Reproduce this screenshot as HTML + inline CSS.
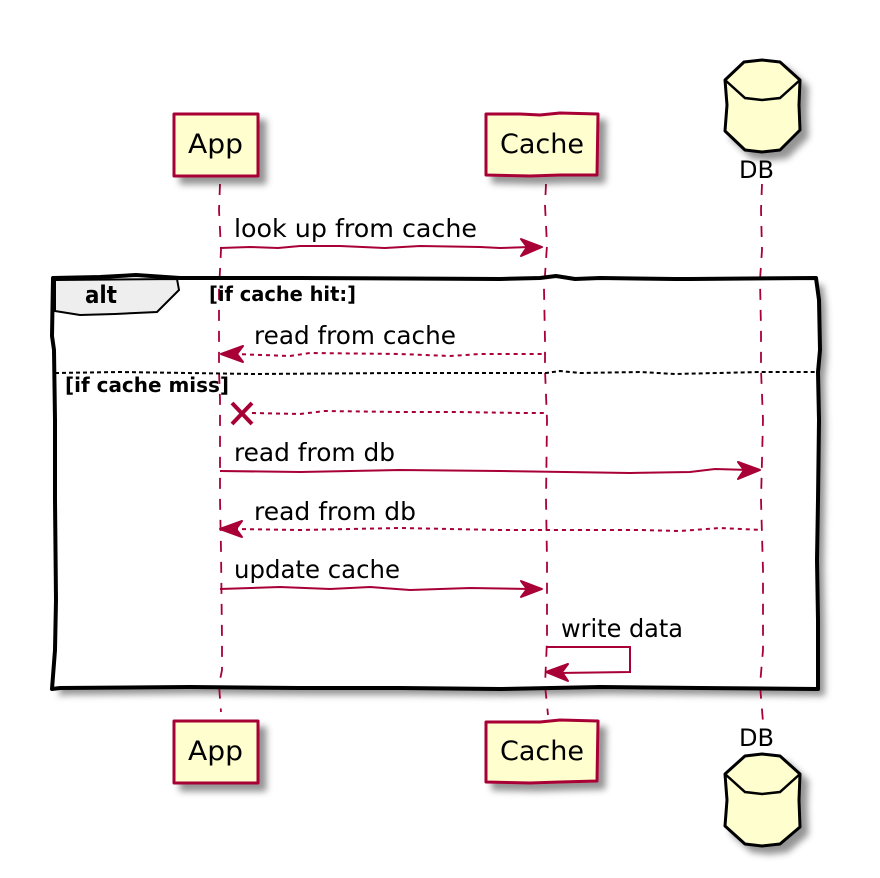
<!DOCTYPE html>
<html><head><meta charset="utf-8"><style>
html,body{margin:0;padding:0;background:#fff;width:880px;height:878px;overflow:hidden}
svg{display:block}
text{font-family:"DejaVu Sans",sans-serif;fill:#000}
.m{font-size:25.3px}.a{font-size:27px}.d{font-size:24px}.b{font-size:20px;font-weight:bold}
.box{fill:#FEFECE;stroke:#A80036;stroke-width:3;stroke-linejoin:round}
.db{fill:#FEFECE;stroke:#000;stroke-width:3;stroke-linejoin:round}
.ll{fill:none;stroke:#A80036;stroke-width:1.8;stroke-dasharray:11 10}
.msg{fill:none;stroke:#A80036;stroke-width:2}
.dot{fill:none;stroke:#A80036;stroke-width:2;stroke-dasharray:4 4}
.ah{fill:#A80036;stroke:#A80036;stroke-width:2;stroke-linejoin:round}
</style></head><body>
<svg width="880" height="878" viewBox="0 0 880 878" xmlns="http://www.w3.org/2000/svg">
<defs><filter id="s" x="-20%" y="-20%" width="150%" height="150%"><feDropShadow dx="7" dy="7" stdDeviation="3.5" flood-color="#000" flood-opacity=".42"/></filter></defs>

<path d="M53 278 L100 277 L136 275 L180 278 L300 278 L500 279 L540 278 L556 276 L575 279 L600 278 L675 279 L690 279 L816 278 L819 300 L820 350 L818 372 L819 420 L818 500 L817 560 L818 620 L818 689 L700 688 L600 687 L500 689 L400 688 L300 688 L190 687 L60 688 L52 689 L55 650 L56 600 L55 500 L55 420 L54 350 L52 336 Z" fill="#fff" filter="url(#s)"/>

<path class="ll" d="M220 184 L219 210 L221 250 L219 290 L219 340 L219 370 L220 400 L220 440 L220 500 L221 550 L222 640 L222 670 L219 685 L221 712"/>
<path class="ll" d="M546 184 L545 205 L547 245 L544 290 L545 340 L545 370 L547 420 L546 500 L547 560 L547 640 L545 685 L548 715"/>
<path class="ll" d="M762 184 L761 210 L762 250 L760 280 L761 330 L761 370 L763 420 L761 500 L763 570 L763 650 L760 685 L763 722"/>

<path d="M53 278 L100 277 L136 275 L180 278 L300 278 L500 279 L540 278 L556 276 L575 279 L600 278 L675 279 L690 279 L816 278 L819 300 L820 350 L818 372 L819 420 L818 500 L817 560 L818 620 L818 689 L700 688 L600 687 L500 689 L400 688 L300 688 L190 687 L60 688 L52 689 L55 650 L56 600 L55 500 L55 420 L54 350 L52 336 Z" fill="none" stroke="#000" stroke-width="4" stroke-linejoin="round"/>
<path d="M55 280 L177 279 L179 290 L157 312 L115 314 L80 315 L55 311 Z" fill="#EEEEEE" stroke="#000" stroke-width="2"/>
<text class="b" x="85" y="303" textLength="32" lengthAdjust="spacingAndGlyphs" style="font-size:24px">alt</text>
<text class="b" x="209" y="301" textLength="147" lengthAdjust="spacingAndGlyphs">[if cache hit:]</text>
<path d="M55 373 L120 372 L255 374 L400 373 L546 373 L560 371 L580 373 L640 372 L675 374 L760 372 L816 372" fill="none" stroke="#000" stroke-width="2" stroke-dasharray="4 3"/>
<text class="b" x="65" y="392" textLength="164" lengthAdjust="spacingAndGlyphs">[if cache miss]</text>

<rect class="box" x="174" y="114" width="84" height="62" filter="url(#s)"/>
<path class="box" d="M486 114 L520 114 L540 115 L560 113 L598 114 L597 175 L560 175 L530 176 L486 175 Z" filter="url(#s)"/>
<rect class="box" x="174" y="721" width="84" height="62" filter="url(#s)"/>
<path class="box" d="M486 722 L520 722 L540 722 L560 720 L598 721 L597 781 L560 782 L530 783 L486 782 Z" filter="url(#s)"/>
<text class="a" x="188" y="153" textLength="55" lengthAdjust="spacingAndGlyphs">App</text>
<text class="a" x="500" y="153" textLength="84" lengthAdjust="spacingAndGlyphs">Cache</text>
<text class="a" x="188" y="760" textLength="55" lengthAdjust="spacingAndGlyphs">App</text>
<text class="a" x="500" y="760" textLength="84" lengthAdjust="spacingAndGlyphs">Cache</text>

<path class="db" d="M725 80 L744 62 L762 60 L780 62 L800 80 L799 105 L800 130 L780 150 L762 152 L745 150 L725 131 L727 105 Z" filter="url(#s)"/>
<path d="M725 80 L745 98 L762 100 L780 98 L800 80" fill="none" stroke="#000" stroke-width="2.5"/>
<path class="db" d="M725 774 L745 756 L762 754 L780 756 L800 774 L799 800 L800 827 L780 844 L762 846 L745 844 L725 826 L727 800 Z" filter="url(#s)"/>
<path d="M725 774 L745 792 L762 794 L780 792 L800 774" fill="none" stroke="#000" stroke-width="2.5"/>
<text class="d" x="739" y="178" textLength="35" lengthAdjust="spacingAndGlyphs">DB</text>
<text class="d" x="739" y="746" textLength="35" lengthAdjust="spacingAndGlyphs">DB</text>

<text class="m" x="234" y="237" textLength="243" lengthAdjust="spacingAndGlyphs">look up from cache</text>
<path class="msg" d="M220 248 L250 247 L278 248 L300 246 L340 246 L385 248 L420 246 L480 247 L500 248 L530 247"/>
<path class="ah" d="M542 247 L521 239 L527 247 L521 256 Z"/>

<text class="m" x="254" y="344" textLength="202" lengthAdjust="spacingAndGlyphs">read from cache</text>
<path class="dot" d="M234 354 L290 356 L310 353 L400 354 L450 356 L480 354 L546 354"/>
<path class="ah" d="M221 354 L243 346 L237 354 L243 362 Z"/>

<path d="M232 403 L252 424 M252 403 L232 424" fill="none" stroke="#A80036" stroke-width="4"/>
<path class="dot" d="M252 413 L300 414 L325 411 L400 412 L460 412 L520 413 L546 413"/>

<text class="m" x="234" y="461" textLength="161" lengthAdjust="spacingAndGlyphs">read from db</text>
<path class="msg" d="M220 471 L300 472 L400 470 L500 471 L630 473 L690 472 L715 469 L750 470"/>
<path class="ah" d="M760 470 L738 462 L744 470 L738 479 Z"/>

<text class="m" x="254" y="520" textLength="162" lengthAdjust="spacingAndGlyphs">read from db</text>
<path class="dot" d="M234 529 L300 530 L400 528 L500 530 L640 530 L680 531 L720 528 L762 530"/>
<path class="ah" d="M220 529 L242 521 L236 529 L242 537 Z"/>

<text class="m" x="234" y="578" textLength="166" lengthAdjust="spacingAndGlyphs">update cache</text>
<path class="msg" d="M220 589 L280 587 L330 589 L370 587 L410 590 L470 588 L530 589"/>
<path class="ah" d="M542 589 L521 581 L527 589 L521 597 Z"/>

<text class="m" x="561" y="637" textLength="122" lengthAdjust="spacingAndGlyphs">write data</text>
<path class="msg" d="M546 647 L630 647 L630 672 L558 673"/>
<path class="ah" d="M546 672 L568 664 L562 672 L568 681 Z"/>
</svg>
</body></html>
